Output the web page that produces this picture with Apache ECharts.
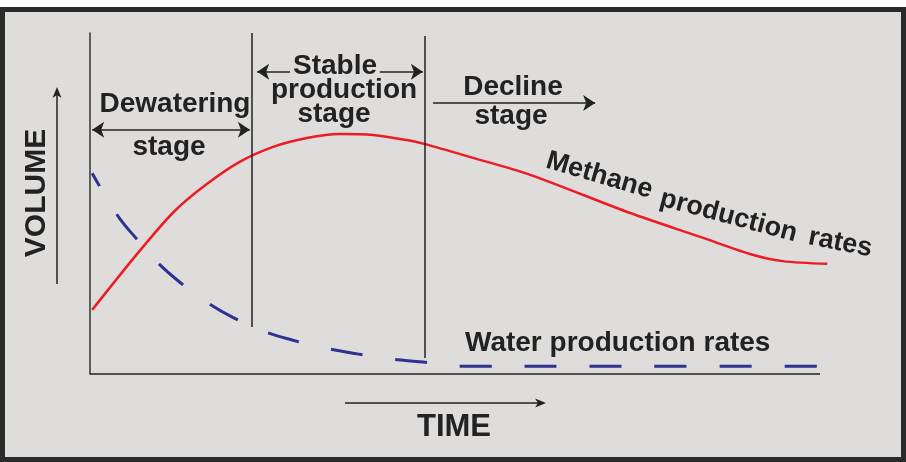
<!DOCTYPE html>
<html>
<head>
<meta charset="utf-8">
<script src="https://cdn.jsdelivr.net/npm/echarts@6/dist/echarts.min.js"></script>
<style>
* { margin: 0; padding: 0; }
body { background: #fff; }
#chart { width: 906px; height: 462px; }
</style>
</head>
<body>
<div id="chart"></div>
<script>
// time 0..100 along x, volume 0..100 along y (relative units)
var methaneTime = [0.3, 6.8, 11.6, 16.0, 20.5, 25.1, 29.7, 34.2, 38.8, 43.4, 45.9, 52.1, 60.3, 74.0, 83.6, 90.4, 94.9, 101.0];
var methaneVol  = [18.8, 36.1, 47.8, 55.7, 62.2, 66.6, 69.2, 70.4, 70.1, 68.6, 67.4, 63.6, 58.4, 47.2, 40.2, 35.2, 33.1, 32.3];
var waterTime = [0.3, 2.1, 4.1, 6.4, 9.3, 12.6, 16.2, 19.5, 23.7, 27.8, 32.2, 36.6, 41.1, 45.6, 50.0, 75.0, 99.6];
var waterVol  = [58.9, 52.2, 45.5, 39.6, 32.6, 26.4, 20.8, 16.7, 12.6, 9.9, 7.6, 5.9, 4.4, 3.5, 2.3, 2.3, 2.3];
// stage boundaries [time, bottom, top]
var stageLines = [[22.2, 13.8, 100], [45.9, 4.7, 99.1]];
var timeAxisEnd = 100;

var txt = '#222';
var fnt = function (s) { return 'bold ' + s + 'px "Liberation Sans", Arial, sans-serif'; };

function zip(a, b) { return a.map(function (v, i) { return [v, b[i]]; }); }

var chart = echarts.init(document.getElementById('chart'));

var arrowLines = [
  // dewatering double arrow
  [{ coord: [0.3, 71.6], symbol: 'arrow' }, { coord: [21.9, 71.6], symbol: 'arrow' }],
  // stable arrows
  [{ coord: [27.4, 88.6], symbol: 'none' }, { coord: [22.9, 88.6], symbol: 'arrow' }],
  [{ coord: [39.7, 88.6], symbol: 'none' }, { coord: [45.6, 88.6], symbol: 'arrow' }],
  // decline arrow
  [{ coord: [47.0, 79.5], symbol: 'none' }, { coord: [69.2, 79.5], symbol: 'arrow' }]
];
var boundLines = stageLines.map(function (s) {
  return [{ coord: [s[0], s[1]], symbol: 'none' }, { coord: [s[0], s[2]], symbol: 'none' }];
});
// time axis line (stops short of the methane curve end)
boundLines.push([{ coord: [0, 0], symbol: 'none' }, { coord: [timeAxisEnd, 0], symbol: 'none' }]);

chart.setOption({
  backgroundColor: '#fff',
  animation: false,
  grid: { left: 90, top: 33, right: 78.7, bottom: 88 },
  xAxis: {
    type: 'value', min: 0, max: 101,
    axisLine: { show: false },
    axisTick: { show: false }, axisLabel: { show: false }, splitLine: { show: false }
  },
  yAxis: {
    type: 'value', min: 0, max: 100,
    axisLine: { show: true, lineStyle: { color: '#333', width: 1.5 } },
    axisTick: { show: false }, axisLabel: { show: false }, splitLine: { show: false }
  },
  graphic: [
    { type: 'rect', z: -10, shape: { x: 2.5, y: 9.5, width: 901, height: 450 },
      style: { fill: '#dedddc', stroke: '#2a2a2a', lineWidth: 5 } },
    // VOLUME arrow
    { type: 'line', shape: { x1: 57, y1: 284, x2: 57, y2: 94 }, style: { stroke: '#222', lineWidth: 1.5 } },
    { type: 'polygon', shape: { points: [[57, 87], [52.5, 98], [57, 95], [61.5, 98]] }, style: { fill: '#222' } },
    // TIME arrow
    { type: 'line', shape: { x1: 345, y1: 403, x2: 538, y2: 403 }, style: { stroke: '#222', lineWidth: 1.5 } },
    { type: 'polygon', shape: { points: [[546, 403], [535, 398.5], [538, 403], [535, 407.5]] }, style: { fill: '#222' } },
    { type: 'text', x: 37, y: 193, rotation: Math.PI / 2,
      style: { text: 'VOLUME', font: fnt(30), fill: txt, align: 'center', verticalAlign: 'middle' } },
    { type: 'text', x: 454, y: 427,
      style: { text: 'TIME', font: fnt(31), fill: txt, align: 'center', verticalAlign: 'middle' } },
    { type: 'text', x: 175, y: 104, style: { text: 'Dewatering', font: fnt(28), fill: txt, align: 'center', verticalAlign: 'middle' } },
    { type: 'text', x: 169, y: 147, style: { text: 'stage', font: fnt(28), fill: txt, align: 'center', verticalAlign: 'middle' } },
    { type: 'text', x: 335, y: 66, style: { text: 'Stable', font: fnt(28), fill: txt, align: 'center', verticalAlign: 'middle' } },
    { type: 'text', x: 344, y: 90, style: { text: 'production', font: fnt(28), fill: txt, align: 'center', verticalAlign: 'middle' } },
    { type: 'text', x: 334, y: 114, style: { text: 'stage', font: fnt(28), fill: txt, align: 'center', verticalAlign: 'middle' } },
    { type: 'text', x: 513, y: 87, style: { text: 'Decline', font: fnt(28), fill: txt, align: 'center', verticalAlign: 'middle' } },
    { type: 'text', x: 511, y: 116, style: { text: 'stage', font: fnt(28), fill: txt, align: 'center', verticalAlign: 'middle' } },
    { type: 'text', x: 465, y: 343, style: { text: 'Water production rates', font: fnt(28), fill: txt, align: 'left', verticalAlign: 'middle' } },
    // methane label follows the curve
    { type: 'text', x: 543, y: 173, rotation: -0.285, style: { text: 'Methane', font: fnt(27), fill: txt, align: 'left', verticalAlign: 'bottom' } },
    { type: 'text', x: 657, y: 211, rotation: -0.26, style: { text: 'production', font: fnt(27), fill: txt, align: 'left', verticalAlign: 'bottom' } },
    { type: 'text', x: 806, y: 250, rotation: -0.19, style: { text: 'rates', font: fnt(27), fill: txt, align: 'left', verticalAlign: 'bottom' } }
  ],
  series: [
    {
      name: 'Methane production rates',
      type: 'line',
      data: zip(methaneTime, methaneVol),
      smooth: 0.3,
      clip: false,
      showSymbol: false,
      lineStyle: { color: '#ec1c24', width: 2.5 },
      z: 3
    },
    {
      name: 'Water production rates',
      type: 'line',
      data: zip(waterTime, waterVol),
      smooth: 0.4,
      clip: false,
      showSymbol: false,
      lineStyle: { color: '#2e3192', width: 3, type: [32, 33], dashOffset: 17 },
      z: 3
    },
    {
      name: 'stages',
      type: 'line',
      data: [],
      clip: false,
      markLine: {
        silent: true,
        animation: false,
        symbolSize: 12,
        label: { show: false },
        emphasis: { disabled: true },
        lineStyle: { color: '#222', width: 1.5, type: 'solid' },
        data: boundLines.concat(arrowLines)
      }
    }
  ]
});
</script>
</body>
</html>
